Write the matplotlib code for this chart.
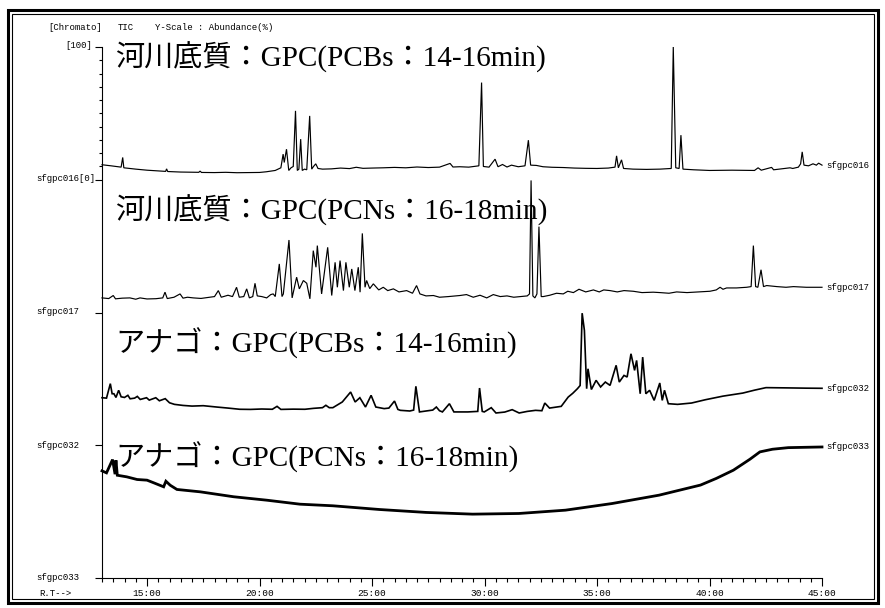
import matplotlib
matplotlib.use("Agg")
import matplotlib.pyplot as plt
from matplotlib.patches import Rectangle

# ---- chromatogram data: retention time (min) and relative abundance (%) ----
rt_016 = [13.00, 13.40, 13.85, 13.92, 13.97, 14.50, 15.00, 15.83, 15.87, 15.92,
          16.50, 17.30, 17.36, 17.42, 18.00, 18.50, 19.00, 19.50, 20.00, 20.30,
          20.70, 20.95, 21.05, 21.10, 21.20, 21.30, 21.40, 21.50, 21.60, 21.68,
          21.75, 21.83, 21.90, 22.00, 22.10, 22.23, 22.32, 22.40, 22.50, 22.60,
          22.80, 23.20, 23.60, 24.00, 24.30, 24.60, 25.00, 25.50, 26.00, 26.50,
          27.00, 27.50, 28.00, 28.47, 28.60, 28.90, 29.30, 29.75, 29.87, 29.95,
          30.20, 30.47, 30.60, 30.80, 31.00, 31.20, 31.50, 31.80, 31.95, 32.05,
          32.30, 32.60, 33.00, 33.50, 34.00, 34.50, 35.00, 35.50, 35.80, 35.87,
          35.95, 36.09, 36.18, 36.60, 37.20, 37.80, 38.30, 38.39, 38.50, 38.65,
          38.73, 38.82, 39.30, 40.00, 41.00, 42.00, 42.16, 42.30, 42.76, 42.85,
          43.00, 43.58, 43.70, 43.95, 44.05, 44.12, 44.20, 44.40, 44.60, 44.75,
          44.85, 45.00]
ab_016 = [11.3, 10.5, 9.5, 16.8, 9.0, 8.0, 7.2, 6.3, 8.2, 6.2,
          5.8, 5.6, 6.5, 5.5, 5.4, 5.6, 5.3, 5.4, 5.5, 6.0,
          7.0, 9.0, 19.3, 13.0, 23.0, 7.0, 9.0, 10.0, 51.9, 7.0,
          8.0, 30.6, 7.0, 8.0, 7.5, 48.1, 8.0, 10.0, 12.0, 8.5,
          8.0, 8.2, 8.8, 8.4, 9.4, 8.6, 8.8, 9.0, 9.3, 9.0,
          9.6, 9.2, 9.5, 12.3, 9.6, 9.8, 9.5, 10.5, 73.2, 10.0,
          9.5, 15.5, 9.8, 11.5, 9.6, 11.0, 9.8, 10.5, 29.8, 11.0,
          10.8, 9.8, 9.4, 9.2, 8.8, 8.6, 8.5, 8.8, 9.5, 18.0,
          9.0, 15.0, 8.5, 8.0, 7.8, 8.0, 8.5, 100.0, 9.0, 8.5,
          33.6, 8.0, 7.5, 7.0, 7.2, 7.0, 9.0, 7.2, 9.3, 7.5,
          7.8, 9.0, 8.5, 9.5, 12.0, 21.0, 11.0, 10.5, 12.0, 11.0,
          12.5, 11.0]

rt_017 = [13.00, 13.30, 13.50, 13.60, 13.90, 14.24, 14.50, 14.69, 15.00, 15.40,
          15.70, 15.80, 15.90, 16.20, 16.47, 16.60, 16.80, 17.06, 17.40, 17.80,
          18.00, 18.17, 18.30, 18.60, 18.80, 18.98, 19.10, 19.30, 19.43, 19.55,
          19.70, 19.80, 19.90, 20.10, 20.32, 20.50, 20.61, 20.70, 20.88, 21.00,
          21.06, 21.31, 21.45, 21.65, 21.77, 21.95, 22.10, 22.24, 22.39, 22.51,
          22.57, 22.76, 23.03, 23.21, 23.36, 23.46, 23.58, 23.73, 23.84, 23.99,
          24.10, 24.24, 24.39, 24.47, 24.57, 24.69, 24.76, 24.90, 25.06, 25.30,
          25.50, 25.70, 25.95, 26.20, 26.54, 26.80, 26.98, 27.13, 27.40, 27.73,
          28.00, 28.40, 28.91, 29.20, 29.50, 29.80, 30.10, 30.39, 30.70, 31.00,
          31.30, 31.60, 31.90, 32.00, 32.07, 32.15, 32.24, 32.33, 32.42, 32.52,
          32.61, 32.90, 33.20, 33.50, 33.70, 33.95, 34.20, 34.50, 34.84, 35.10,
          35.30, 35.58, 35.90, 36.20, 36.61, 37.00, 37.50, 37.80, 38.20, 38.54,
          39.00, 39.50, 40.02, 40.30, 40.47, 40.60, 40.76, 41.20, 41.65, 41.85,
          41.95, 42.05, 42.15, 42.29, 42.40, 42.54, 43.00, 43.40, 43.73, 44.30,
          44.91, 45.00]
ab_017 = [11.0, 10.5, 12.8, 10.3, 10.8, 11.0, 10.0, 11.0, 10.2, 10.4,
          11.0, 15.3, 10.5, 11.5, 14.0, 10.8, 11.5, 11.0, 10.6, 11.5,
          12.0, 16.5, 11.5, 13.0, 12.0, 19.0, 11.5, 12.0, 17.8, 11.0,
          12.0, 22.0, 12.5, 12.0, 11.0, 13.5, 14.0, 12.0, 36.6, 12.0,
          14.0, 54.6, 11.0, 26.6, 17.8, 24.1, 22.0, 10.3, 46.6, 34.1,
          50.4, 14.0, 49.1, 12.8, 37.8, 19.0, 39.1, 16.5, 37.8, 19.0,
          32.8, 16.5, 34.1, 15.3, 59.6, 19.0, 24.1, 18.0, 21.6, 17.0,
          19.0, 16.5, 17.8, 15.5, 16.5, 14.5, 20.3, 14.0, 12.5, 12.8,
          11.5, 12.0, 12.8, 13.5, 11.5, 13.0, 11.0, 13.5, 12.0, 12.5,
          11.5, 12.0, 12.5, 14.0, 99.5, 12.5, 11.0, 14.0, 64.7, 12.0,
          12.0, 13.0, 14.5, 14.0, 16.0, 15.0, 17.5, 15.5, 17.0, 15.5,
          17.0, 16.5, 15.5, 16.5, 16.0, 15.0, 15.3, 15.0, 14.5, 15.5,
          15.0, 15.5, 16.0, 17.0, 19.0, 17.5, 18.5, 18.5, 19.0, 19.5,
          50.4, 19.5, 19.0, 32.2, 19.5, 20.3, 19.5, 19.0, 19.5, 19.0,
          19.0, 19.0]

rt_032 = [13.00, 13.20, 13.37, 13.45, 13.53, 13.62, 13.74, 13.85, 14.00, 14.15,
          14.25, 14.45, 14.57, 14.70, 14.98, 15.10, 15.39, 15.55, 15.81, 16.00,
          16.22, 16.60, 17.00, 17.50, 18.09, 18.60, 19.12, 19.60, 20.10, 20.57,
          20.78, 20.95, 21.50, 22.02, 22.40, 22.80, 22.95, 23.10, 23.26, 23.68,
          24.05, 24.25, 24.46, 24.71, 24.96, 25.17, 25.54, 25.75, 26.00, 26.15,
          26.26, 26.68, 26.85, 26.95, 27.11, 27.40, 27.70, 27.86, 28.00, 28.13,
          28.44, 28.64, 29.26, 29.70, 29.78, 29.90, 29.99, 30.30, 30.51, 30.90,
          31.23, 31.54, 31.90, 32.27, 32.55, 32.68, 32.89, 33.41, 33.72, 33.92,
          34.13, 34.25, 34.34, 34.44, 34.54, 34.60, 34.75, 34.96, 35.16, 35.37,
          35.58, 35.85, 35.99, 36.20, 36.34, 36.51, 36.67, 36.76, 36.92, 37.03,
          37.17, 37.34, 37.54, 37.79, 37.90, 38.00, 38.17, 38.58, 39.20, 39.82,
          40.60, 41.48, 42.00, 42.51, 43.50, 44.30, 45.00]
ab_032 = [35.8, 35.5, 46.4, 38.8, 38.8, 36.0, 41.4, 36.5, 36.0, 37.6,
          35.0, 35.5, 36.8, 34.5, 35.8, 34.0, 35.8, 33.5, 35.1, 32.0,
          30.8, 30.0, 29.5, 29.8, 28.8, 28.0, 27.1, 27.0, 27.3, 27.1,
          29.3, 27.0, 27.2, 27.1, 27.8, 28.3, 30.1, 28.3, 28.3, 32.6,
          40.1, 32.6, 35.8, 28.8, 37.6, 28.8, 27.6, 28.0, 33.3, 27.0,
          26.3, 25.8, 26.5, 44.4, 25.1, 25.8, 26.5, 28.8, 26.0, 25.1,
          31.3, 25.1, 25.1, 25.5, 43.1, 25.5, 25.1, 28.3, 24.3, 25.0,
          26.8, 24.3, 25.5, 26.3, 26.0, 31.8, 28.0, 29.3, 36.3, 39.1,
          42.6, 45.0, 99.5, 86.5, 42.6, 57.6, 42.0, 48.9, 43.9, 47.6,
          45.1, 60.2, 47.6, 52.6, 51.4, 68.9, 56.4, 63.9, 38.8, 66.4,
          38.8, 41.4, 33.8, 46.9, 33.8, 41.4, 31.3, 30.8, 31.8, 34.3,
          37.0, 39.3, 41.5, 43.4, 43.2, 43.0, 42.9]

rt_033 = [13.00, 13.20, 13.47, 13.58, 13.62, 13.68, 14.10, 14.56, 15.00, 15.30,
          15.74, 15.84, 16.03, 16.33, 17.37, 18.85, 20.33, 21.80, 23.26, 25.33,
          27.40, 29.47, 31.53, 33.60, 35.67, 37.76, 39.60, 40.30, 41.06, 41.80,
          42.24, 42.80, 43.50, 45.00]
ab_033 = [80.7, 79.2, 89.2, 78.2, 88.7, 77.4, 76.2, 74.2, 73.7, 71.7,
          68.7, 72.9, 69.9, 66.7, 64.9, 61.2, 58.6, 55.6, 54.4, 51.6,
          49.4, 48.1, 48.6, 51.1, 56.1, 62.4, 70.0, 75.0, 81.2, 89.5,
          95.0, 97.0, 98.2, 98.7]

run_names = ["sfgpc016", "sfgpc017", "sfgpc032", "sfgpc033"]
run_titles = ["河川底質：GPC(PCBs：14-16min)",
              "河川底質：GPC(PCNs：16-18min)",
              "アナゴ：GPC(PCBs：14-16min)",
              "アナゴ：GPC(PCNs：16-18min)"]
xtick_minutes = [15, 20, 25, 30, 35, 40, 45]
xtick_labels = ["15:00", "20:00", "25:00", "30:00", "35:00", "40:00", "45:00"]

runs = [(rt_016, ab_016), (rt_017, ab_017), (rt_032, ab_032), (rt_033, ab_033)]

# ---- figure layout (pixel based) ----
W, H, DPI = 885, 608, 100
fig = plt.figure(figsize=(W / DPI, H / DPI), dpi=DPI)
fig.patch.set_facecolor("white")

AX_L, AX_R, AX_T, AX_B = 102, 822, 47, 578
ax = fig.add_axes([AX_L / W, 1 - AX_B / H, (AX_R - AX_L) / W, (AX_B - AX_T) / H])
ax.set_xlim(13, 45)
ax.set_ylim(0, 400)
for side in ("top", "right"):
    ax.spines[side].set_visible(False)
for side in ("left", "bottom"):
    ax.spines[side].set_linewidth(0.8)
ax.set_facecolor("none")

MONO = "Liberation Mono"

# x ticks: every 30 s, labelled every 5 min
ax.set_xticks(xtick_minutes)
ax.set_xticklabels(xtick_labels, fontfamily=MONO, fontsize=6.8)
ax.set_xticks([13 + 0.5 * i for i in range(65) if (13 + 0.5 * i) not in xtick_minutes],
              minor=True)
ax.tick_params(axis="x", which="major", length=5.5, width=0.8, direction="out", pad=2.5)
ax.tick_params(axis="x", which="minor", length=3, width=0.8, direction="out")

# y ticks: one major per run, 10 % steps inside the top run
ax.set_yticks([0, 100, 200, 300, 400])
ax.set_yticks([300 + 10 * i for i in range(1, 10)], minor=True)
ax.set_yticklabels([])
ax.tick_params(axis="y", which="major", length=5, width=0.8, direction="out")
ax.tick_params(axis="y", which="minor", length=2.5, width=0.8, direction="out")

# traces, stacked with 100 % per run
widths = [0.85, 0.85, 1.2, 2.0]
for i, ((rt, ab), lw) in enumerate(zip(runs, widths)):
    off = 100 * (3 - i)
    ax.plot(rt, [off + v for v in ab], color="black", lw=lw, clip_on=False,
            solid_joinstyle="miter", zorder=3)
    ax.text(45.18, off + ab[-1], run_names[i], fontfamily=MONO, fontsize=6.5,
            ha="left", va="center", zorder=4)

# run titles
title_base_px = [67, 220, 353, 467]
for ttl, ypx in zip(run_titles, title_base_px):
    ax.text((115 - AX_L) / (AX_R - AX_L), (AX_B - ypx) / (AX_B - AX_T), ttl,
            transform=ax.transAxes, fontsize=21,
            family=["Liberation Serif", "Noto Sans CJK JP"],
            ha="left", va="baseline", zorder=2)

# left axis labels
def fig_text(xpx, ypx, s, **kw):
    fig.text(xpx / W, 1 - ypx / H, s, fontfamily=MONO, fontsize=6.5, **kw)

fig_text(92, 45, "[100]", ha="right", va="center")
fig_text(36, 179, "sfgpc016[0]", ha="left", va="center")
fig_text(36, 312, "sfgpc017", ha="left", va="center")
fig_text(36, 445, "sfgpc032", ha="left", va="center")
fig_text(36, 578, "sfgpc033", ha="left", va="center")
fig_text(39, 594, "R.T-->", ha="left", va="center")

# header line
fig_text(48, 27, "[Chromato]", ha="left", va="center")
fig_text(118, 27, "TIC", ha="left", va="center")
fig_text(155, 27, "Y-Scale : Abundance(%)", ha="left", va="center")

# window frame
fig.add_artist(Rectangle((8 / W, 1 - 603 / H), 870 / W, 593 / H, fill=False,
                         lw=2.2, edgecolor="black", transform=fig.transFigure))
fig.add_artist(Rectangle((12 / W, 1 - 599 / H), 862 / W, 585 / H, fill=False,
                         lw=0.8, edgecolor="black", transform=fig.transFigure))

fig.savefig("out.png", dpi=DPI, facecolor="white")
